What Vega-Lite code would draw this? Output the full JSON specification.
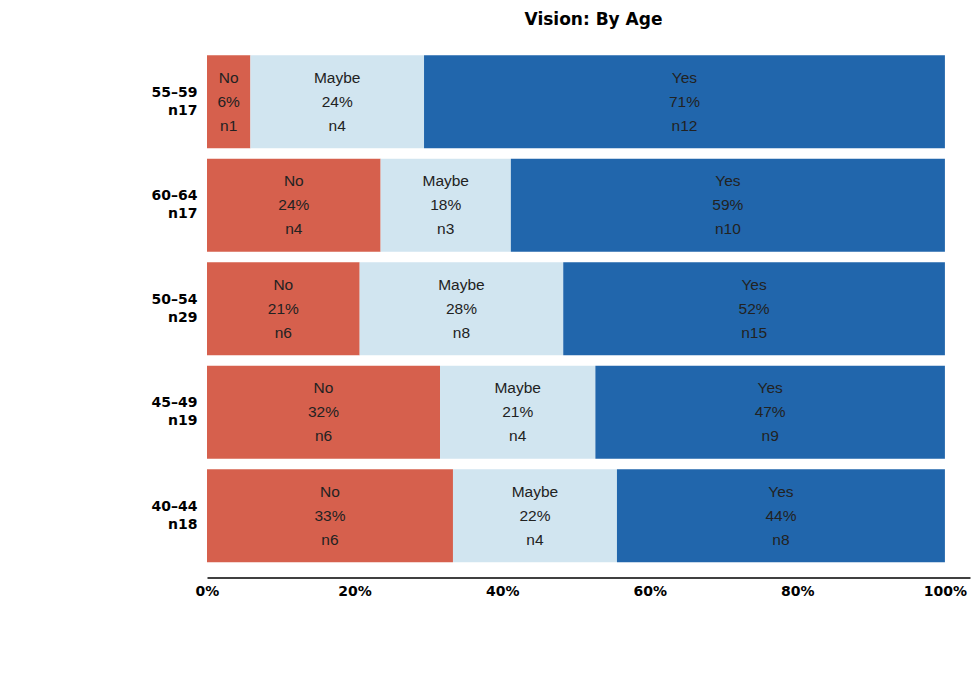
{
  "$schema": "https://vega.github.io/schema/vega-lite/v6.json",
  "width": 763,
  "height": 517.5,
  "autosize": {"type": "none"},
  "padding": {"left": 207, "top": 50, "right": 1, "bottom": 116.5},
  "background": "white",
  "title": {"text": "Vision: By Age", "fontSize": 17, "font": "DejaVu Sans", "fontWeight": "bold", "color": "black", "anchor": "middle", "offset": 21, "dx": 5},
  "config": {"view": {"stroke": null}},
  "data": {"values": [
    {"group": "55–59|n17", "cat": "No", "k": 1, "n": 1, "pct": "6%"},
    {"group": "55–59|n17", "cat": "Maybe", "k": 2, "n": 4, "pct": "24%"},
    {"group": "55–59|n17", "cat": "Yes", "k": 3, "n": 12, "pct": "71%"},
    {"group": "60–64|n17", "cat": "No", "k": 1, "n": 4, "pct": "24%"},
    {"group": "60–64|n17", "cat": "Maybe", "k": 2, "n": 3, "pct": "18%"},
    {"group": "60–64|n17", "cat": "Yes", "k": 3, "n": 10, "pct": "59%"},
    {"group": "50–54|n29", "cat": "No", "k": 1, "n": 6, "pct": "21%"},
    {"group": "50–54|n29", "cat": "Maybe", "k": 2, "n": 8, "pct": "28%"},
    {"group": "50–54|n29", "cat": "Yes", "k": 3, "n": 15, "pct": "52%"},
    {"group": "45–49|n19", "cat": "No", "k": 1, "n": 6, "pct": "32%"},
    {"group": "45–49|n19", "cat": "Maybe", "k": 2, "n": 4, "pct": "21%"},
    {"group": "45–49|n19", "cat": "Yes", "k": 3, "n": 9, "pct": "47%"},
    {"group": "40–44|n18", "cat": "No", "k": 1, "n": 6, "pct": "33%"},
    {"group": "40–44|n18", "cat": "Maybe", "k": 2, "n": 4, "pct": "22%"},
    {"group": "40–44|n18", "cat": "Yes", "k": 3, "n": 8, "pct": "44%"}
  ]},
  "transform": [
    {"stack": "n", "groupby": ["group"], "sort": [{"field": "k"}], "as": ["x0", "x1"], "offset": "normalize"},
    {"calculate": "(datum.x0 + datum.x1) / 2", "as": "xm"},
    {"calculate": "'n' + datum.n", "as": "nlab"}
  ],
  "encoding": {
    "y": {
      "field": "group", "type": "nominal",
      "sort": ["55–59|n17", "60–64|n17", "50–54|n29", "45–49|n19", "40–44|n18"],
      "scale": {"paddingInner": 0.1, "paddingOuter": 0.05},
      "axis": {"title": null, "domain": false, "ticks": false, "labelExpr": "split(datum.label, '|')", "labelFont": "DejaVu Sans", "labelFontWeight": "bold", "labelFontSize": 14, "labelColor": "black", "labelPadding": 10, "labelLineHeight": 18, "labelOffset": -9}
    }
  },
  "layer": [
    {
      "mark": {"type": "bar"},
      "encoding": {
        "x": {"field": "x0", "type": "quantitative", "scale": {"domain": [0, 1.034], "nice": false, "zero": true},
          "axis": {"title": null, "values": [0, 0.2, 0.4, 0.6, 0.8, 1], "format": ".0%", "grid": false, "ticks": false, "offset": 10, "domainColor": "black", "domainWidth": 1.5, "labelFont": "DejaVu Sans", "labelFontWeight": "bold", "labelFontSize": 14, "labelColor": "black", "labelPadding": 7, "labelFlush": false}},
        "x2": {"field": "x1"},
        "color": {"field": "cat", "type": "nominal", "scale": {"domain": ["No", "Maybe", "Yes"], "range": ["#d6604d", "#d1e5f0", "#2166ac"]}, "legend": null}
      }
    },
    {
      "mark": {"type": "text", "dy": -24, "font": "Liberation Sans", "fontSize": 15.5, "color": "#222222"},
      "encoding": {"x": {"field": "xm", "type": "quantitative"}, "text": {"field": "cat"}}
    },
    {
      "mark": {"type": "text", "dy": 0, "font": "Liberation Sans", "fontSize": 15.5, "color": "#222222"},
      "encoding": {"x": {"field": "xm", "type": "quantitative"}, "text": {"field": "pct"}}
    },
    {
      "mark": {"type": "text", "dy": 24, "font": "Liberation Sans", "fontSize": 15.5, "color": "#222222"},
      "encoding": {"x": {"field": "xm", "type": "quantitative"}, "text": {"field": "nlab"}}
    }
  ]
}
